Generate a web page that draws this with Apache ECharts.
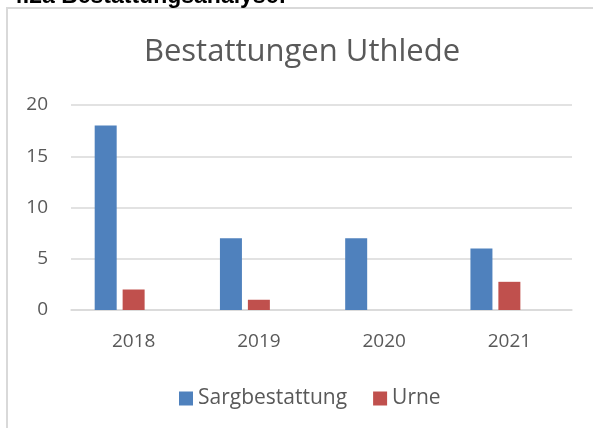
<!DOCTYPE html>
<html>
<head>
<meta charset="utf-8">
<title>Bestattungen Uthlede</title>
<script src="https://cdn.jsdelivr.net/npm/echarts@6/dist/echarts.min.js"></script>
<style>
html,body{margin:0;padding:0;background:#fff;}
#main{width:593px;height:428px;}
</style>
</head>
<body>
<div id="main"></div>
<script>
// Daten
var years = ['2018', '2019', '2020', '2021'];
var sarg = [18, 7, 7, 6];
var urne = [2, 1, 0, 2.75];
var yTicks = [0, 5, 10, 15, 20];

var colors = ['#4f81bd', '#c0504d'];
var font = '"Open Sans", Lato, sans-serif';

var chart = echarts.init(document.getElementById('main'));

var option = {
    animation: false,
    color: colors,
    grid: { left: 71, right: 21, top: 105, bottom: 118 },
    legend: {
        data: ['Sargbestattung', 'Urne'],
        left: 174, top: 383,
        icon: 'rect',
        itemWidth: 14, itemHeight: 14,
        itemGap: 26,
        textStyle: { fontFamily: font, fontSize: 21, color: '#595959' }
    },
    xAxis: {
        type: 'category',
        data: years,
        axisTick: { show: false },
        axisLine: { lineStyle: { color: '#d9d9d9', width: 1.5 } },
        axisLabel: { margin: 22, fontFamily: font, fontSize: 19, color: '#595959' }
    },
    yAxis: {
        type: 'value',
        min: yTicks[0],
        max: yTicks[yTicks.length - 1],
        interval: 5,
        axisLine: { show: false },
        axisTick: { show: false },
        splitLine: { lineStyle: { color: '#d9d9d9', width: 1.5 } },
        axisLabel: { margin: 23, fontFamily: font, fontSize: 19, color: '#595959' }
    },
    graphic: [
        {
            type: 'rect', silent: true,
            shape: { x: 7, y: 8, width: 620, height: 460 },
            style: { fill: 'none', stroke: '#d9d9d9', lineWidth: 2 }
        },
        {
            // Überschrift aus dem Dokument, oben abgeschnitten
            type: 'text', x: 10, y: -3,
            style: {
                text: '4.2a Bestattungsanalyse:',
                font: 'bold 23px "Liberation Sans", Arial, sans-serif',
                fill: '#000', verticalAlign: 'middle'
            }
        },
        {
            type: 'text', x: 302, y: 52,
            style: {
                text: 'Bestattungen Uthlede',
                font: '31px ' + font,
                fill: '#595959', align: 'center', verticalAlign: 'middle'
            }
        }
    ],
    series: [
        { name: 'Sargbestattung', type: 'bar', data: sarg, barWidth: 22, barGap: '27%' },
        { name: 'Urne', type: 'bar', data: urne, barWidth: 22, barGap: '27%' },
        { name: 'leer', type: 'bar', data: [null, null, null, null], barWidth: 22, barGap: '27%' }
    ]
};

chart.setOption(option);
</script>
</body>
</html>
